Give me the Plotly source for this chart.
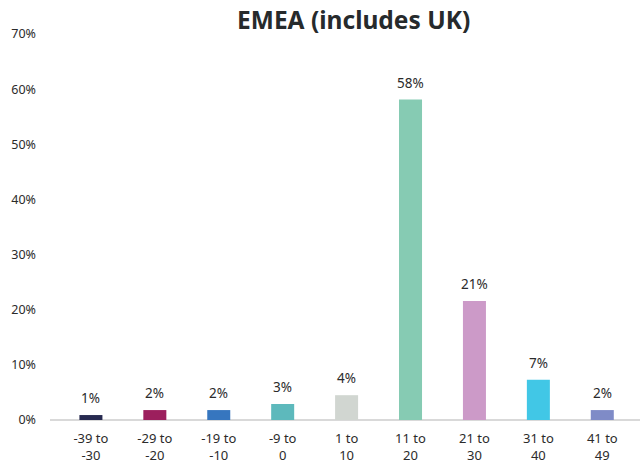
import plotly.graph_objects as go

categories = ["-39 to<br>-30", "-29 to<br>-20", "-19 to<br>-10", "-9 to<br>0", "1 to<br>10",
              "11 to<br>20", "21 to<br>30", "31 to<br>40", "41 to<br>49"]
values = [0.9, 1.8, 1.8, 2.9, 4.5, 58.1, 21.6, 7.3, 1.8]
labels = ["1%", "2%", "2%", "3%", "4%", "58%", "21%", "7%", "2%"]
colors = ["#272a50", "#9c1f5d", "#3676bf", "#5db9bc", "#d1d6d1",
          "#86cbb3", "#cc9ac8", "#41c7e6", "#7f8bc7"]
y_ticks = [0, 10, 20, 30, 40, 50, 60, 70]
y_tick_text = [f"{t}%" for t in y_ticks]
title = "EMEA (includes UK)"

xpos = list(range(len(categories)))

fig = go.Figure()
fig.add_trace(go.Bar(x=xpos, y=values, marker=dict(color=colors, line=dict(width=0)),
                     width=0.36, hoverinfo="skip"))

for x, v, t in zip(xpos, values, labels):
    fig.add_annotation(x=x, y=v, text=t, showarrow=False, yanchor="middle", yshift=17,
                       font=dict(family="Noto Sans", size=13.5, color="#2b2b2b"))

fig.update_layout(
    template="none",
    width=643, height=464,
    margin=dict(l=50, r=3, t=34, b=44),
    paper_bgcolor="white", plot_bgcolor="white",
    showlegend=False,
    title=dict(text="<b>" + title + "</b>", x=0.55, xanchor="center", y=0.956, yanchor="middle",
               yref="container",
               font=dict(family="Noto Sans", size=24.5, color="#262a2c")),
    xaxis=dict(tickmode="array", tickvals=xpos, ticktext=categories, range=[-0.64, 8.59],
               showgrid=False, zeroline=False, showline=False, ticks="", automargin=False,
               ticklabelstandoff=9,
               tickfont=dict(family="Noto Sans", size=13, color="#2b2b2b")),
    yaxis=dict(tickmode="array", tickvals=y_ticks, ticktext=y_tick_text, range=[0, 70],
               showgrid=False, zeroline=True, zerolinecolor="#d9d9d9", zerolinewidth=2,
               showline=False, ticks="", automargin=False, ticklabelstandoff=13,
               tickfont=dict(family="Noto Sans", size=12.5, color="#2b2b2b")),
)

fig.write_html("out.html", config={"displayModeBar": False},
               post_script="document.body.style.margin='0';document.body.style.overflow='hidden';")
